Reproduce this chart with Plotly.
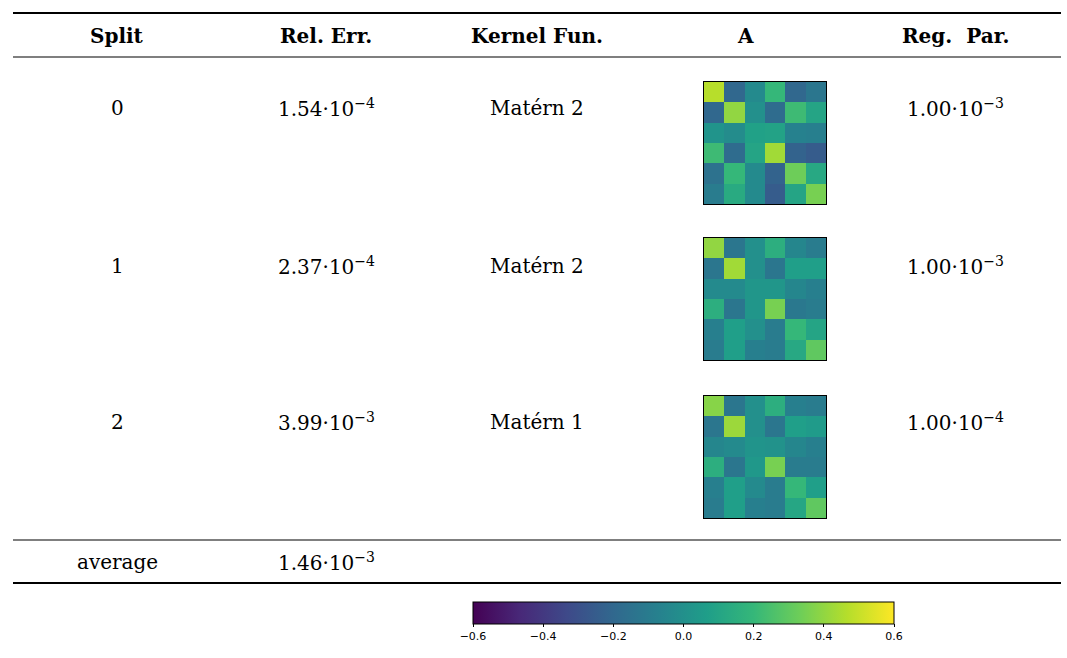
import plotly.graph_objects as go

W, H = 1067, 658

headers = ["Split", "Rel. Err.", "Kernel Fun.", "A", "Reg.  Par."]
splits = ["0", "1", "2"]
rel_err = ["1.54·10<sup>−4</sup>", "2.37·10<sup>−4</sup>", "3.99·10<sup>−3</sup>"]
kernels = ["Matérn 2", "Matérn 2", "Matérn 1"]
reg_par = ["1.00·10<sup>−3</sup>", "1.00·10<sup>−3</sup>", "1.00·10<sup>−4</sup>"]
avg_label = "average"
avg_err = "1.46·10<sup>−3</sup>"

A0 = [
    [0.47, -0.20, -0.03, 0.20, -0.20, -0.13],
    [-0.20, 0.40, 0.00, -0.18, 0.22, 0.10],
    [0.02, -0.02, 0.08, 0.09, -0.07, -0.08],
    [0.22, -0.18, 0.10, 0.43, -0.22, -0.25],
    [-0.15, 0.20, -0.03, -0.22, 0.33, 0.12],
    [-0.10, 0.13, -0.03, -0.25, 0.10, 0.35],
]
A1 = [
    [0.40, -0.13, 0.00, 0.15, -0.05, -0.10],
    [-0.13, 0.43, 0.00, -0.13, 0.07, 0.07],
    [-0.03, -0.03, 0.03, 0.03, -0.05, -0.08],
    [0.15, -0.13, 0.03, 0.35, -0.12, -0.10],
    [-0.08, 0.07, 0.00, -0.10, 0.20, 0.10],
    [-0.10, 0.07, -0.08, -0.10, 0.12, 0.30],
]
A2 = [
    [0.38, -0.13, 0.00, 0.15, -0.08, -0.10],
    [-0.13, 0.42, 0.00, -0.13, 0.07, 0.05],
    [-0.05, -0.03, 0.02, 0.01, -0.05, -0.08],
    [0.15, -0.13, 0.04, 0.35, -0.10, -0.10],
    [-0.08, 0.07, -0.03, -0.10, 0.20, 0.07],
    [-0.10, 0.07, -0.08, -0.10, 0.11, 0.30],
]
matrices = [A0, A1, A2]
cbar_ticks = [-0.6, -0.4, -0.2, 0.0, 0.2, 0.4, 0.6]


def px(x):
    return x / W


def py(y):
    return 1 - y / H


col_x = [117, 326, 537, 745, 955]
row_y = [108, 266, 422]
hm_top = [82, 238, 396]
hm_size = 122
hm_left = 704

FONT = "DejaVu Serif"
FS = 20

fig = go.Figure()

for i, M in enumerate(matrices):
    sfx = "" if i == 0 else str(i + 1)
    fig.add_trace(go.Heatmap(z=M, coloraxis="coloraxis", xaxis="x" + sfx,
                             yaxis="y" + sfx, hoverinfo="skip"))
    ax = dict(domain=[px(hm_left), px(hm_left + hm_size)], showticklabels=False,
              ticks="", showgrid=False, zeroline=False, showline=True,
              mirror=True, linecolor="black", linewidth=1, anchor="y" + sfx)
    ay = dict(domain=[py(hm_top[i] + hm_size), py(hm_top[i])], showticklabels=False,
              ticks="", showgrid=False, zeroline=False, showline=True,
              mirror=True, linecolor="black", linewidth=1, autorange="reversed",
              anchor="x" + sfx)
    fig.layout["xaxis" + sfx] = ax
    fig.layout["yaxis" + sfx] = ay

ann = []
for j, h in enumerate(headers):
    ann.append(dict(x=px(col_x[j]), y=py(36), text="<b>" + h + "</b>"))
for i in range(3):
    ann.append(dict(x=px(col_x[0]), y=py(row_y[i]), text=splits[i]))
    ann.append(dict(x=px(col_x[1]), y=py(row_y[i]), text=rel_err[i]))
    ann.append(dict(x=px(col_x[2]), y=py(row_y[i]), text=kernels[i]))
    ann.append(dict(x=px(col_x[4]), y=py(row_y[i]), text=reg_par[i]))
ann.append(dict(x=px(col_x[0]), y=py(562), text=avg_label))
ann.append(dict(x=px(col_x[1]), y=py(562), text=avg_err))
for a in ann:
    a.update(xref="paper", yref="paper", showarrow=False, xanchor="center",
             yanchor="middle", font=dict(family=FONT, size=FS, color="black"))

shapes = []
for yv, w in [(13, 2), (57, 1.2), (540, 1.2), (583, 2)]:
    shapes.append(dict(type="line", xref="paper", yref="paper", x0=px(13), x1=px(1061),
                       y0=py(yv), y1=py(yv), line=dict(color="black", width=w)))

fig.update_layout(
    width=W, height=H, margin=dict(l=0, r=0, t=0, b=0),
    paper_bgcolor="white", plot_bgcolor="white",
    annotations=ann, shapes=shapes, showlegend=False,
    coloraxis=dict(
        colorscale="Viridis", cmin=-0.6, cmax=0.6,
        colorbar=dict(orientation="h", x=px(473), xanchor="left", y=py(602),
                      yanchor="top", len=421, lenmode="pixels", thickness=22,
                      thicknessmode="pixels", xpad=0, ypad=0, outlinewidth=1,
                      outlinecolor="black", tickvals=cbar_ticks, tickformat=".1f",
                      ticks="outside", ticklen=3, tickcolor="black",
                      tickfont=dict(family="DejaVu Sans", size=11, color="black")),
    ),
)

fig.write_html("out.html")
